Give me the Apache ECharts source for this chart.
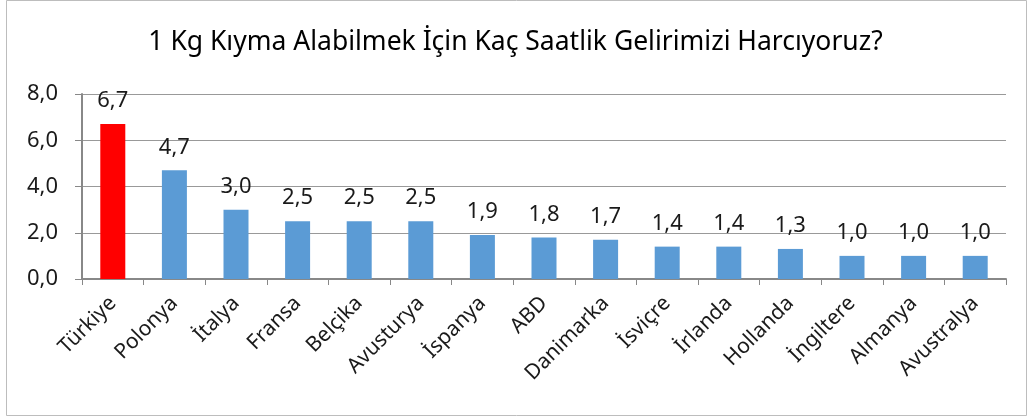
<!DOCTYPE html>
<head>
    <meta charset="utf-8">
    <title>ECharts</title>
</head>
<body style="margin:0">
    <div id="main" style="height:418px;width:1031px"></div>
    <script src="https://cdn.jsdelivr.net/npm/echarts@6/dist/echarts.min.js"></script>
    <script type="text/javascript">
    var countries = ['Türkiye', 'Polonya', 'İtalya', 'Fransa', 'Belçika', 'Avusturya', 'İspanya', 'ABD',
        'Danimarka', 'İsviçre', 'İrlanda', 'Hollanda', 'İngiltere', 'Almanya', 'Avustralya'];
    var hours = [6.7, 4.7, 3.0, 2.5, 2.5, 2.5, 1.9, 1.8, 1.7, 1.4, 1.4, 1.3, 1.0, 1.0, 1.0];
    var yTicks = [0, 2, 4, 6, 8];

    var myChart = echarts.init(document.getElementById("main"));
    var font = '"Noto Sans", "Open Sans", sans-serif';
    function comma(v) {
        return Number(v).toFixed(1).replace('.', ',');
    }
    var option = {
        backgroundColor: '#fff',
        textStyle: { fontFamily: font },
        title: {
            text: '1 Kg Kıyma Alabilmek İçin Kaç Saatlik Gelirimizi Harcıyoruz?',
            left: 'center',
            top: 24,
            textStyle: { fontSize: 26.5, fontWeight: 'normal', color: '#000', fontFamily: font }
        },
        graphic: [{
            type: 'rect',
            shape: { x: 6.5, y: 0.5, width: 1020, height: 415 },
            style: { fill: null, stroke: '#bdbdbd', lineWidth: 1 },
            silent: true
        }],
        grid: { left: 82, right: 25, top: 94, bottom: 139 },
        xAxis: {
            type: 'category',
            data: countries,
            axisLine: { lineStyle: { color: '#888', width: 2 } },
            axisTick: { show: true, length: 6, lineStyle: { color: '#888' } },
            axisLabel: { rotate: 45, fontSize: 21, color: '#1a1a1a', margin: 21, interval: 0 }
        },
        yAxis: {
            type: 'value',
            min: yTicks[0],
            max: yTicks[yTicks.length - 1],
            interval: 2,
            axisLine: { show: true, lineStyle: { color: '#888', width: 2 } },
            axisTick: { show: true, length: 7, lineStyle: { color: '#888' } },
            splitLine: { lineStyle: { color: '#999' } },
            axisLabel: { fontSize: 22, color: '#1a1a1a', margin: 24, formatter: comma }
        },
        series: [{
            type: 'bar',
            data: hours.map(function (v, i) {
                return { value: v, itemStyle: { color: i === 0 ? '#ff0000' : '#5b9bd5' } };
            }),
            barWidth: 25,
            label: {
                show: true,
                position: 'top',
                distance: 12,
                fontSize: 22,
                color: '#1a1a1a',
                formatter: function (p) { return comma(p.value); }
            }
        }]
    };
    myChart.setOption(option);
    </script>
</body>
